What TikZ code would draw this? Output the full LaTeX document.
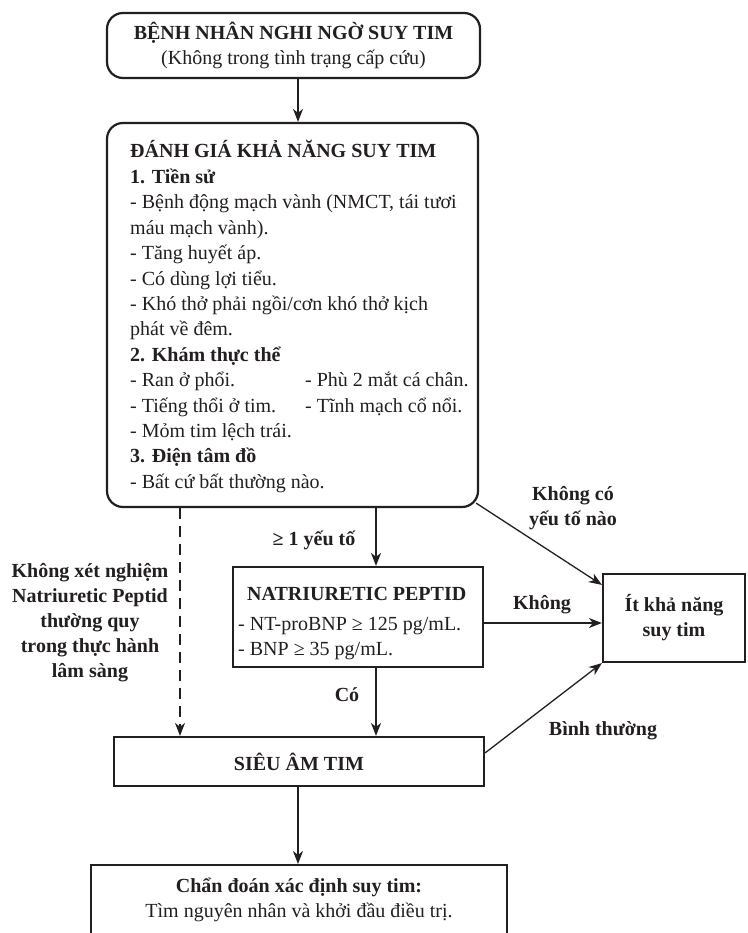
\documentclass[tikz,border=0pt]{standalone}
\usepackage{fontspec}
\setmainfont{Liberation Serif}
\usetikzlibrary{arrows.meta}
\definecolor{ink}{HTML}{231F20}
\begin{document}
\begin{tikzpicture}[x=1pt,y=-1pt,
  every node/.style={text=ink, font=\fontsize{20}{25}\selectfont},
  box/.style={draw=ink, line width=2.2pt, inner sep=0pt},
  rbox/.style={box, rounded corners=16pt},
  arr/.style={draw=ink, line width=1.3pt, -{Stealth[length=13pt,width=10pt,inset=4pt]}},
  lbl/.style={font=\fontsize{20}{25}\selectfont\bfseries, align=center},
  ln/.style={anchor=base west, inner sep=0pt}]
\clip (0,0) rectangle (747,933);
\fill[white] (0,0) rectangle (747,933);

% top box
\node[rbox, minimum width=373pt, minimum height=65pt, align=center] (start) at (293.5,45.5)
  {\textbf{BỆNH NHÂN NGHI NGỜ SUY TIM}\\(Không trong tình trạng cấp cứu)};

% assessment box
\node[rbox, minimum width=371pt, minimum height=384pt] (assess) at (292.5,315) {};
\node[ln] (t0) at (130,158) {\textbf{ĐÁNH GIÁ KHẢ NĂNG SUY TIM}};
\node[ln] (t1) at (130,183.4) {\textbf{1. Tiền sử}};
\node[ln] (t2) at (130,208.8) {- Bệnh động mạch vành (NMCT, tái tươi};
\node[ln] (t3) at (130,234.2) {máu mạch vành).};
\node[ln] (t4) at (130,259.6) {- Tăng huyết áp.};
\node[ln] (t5) at (130,285) {- Có dùng lợi tiểu.};
\node[ln] (t6) at (130,310.4) {- Khó thở phải ngồi/cơn khó thở kịch};
\node[ln] (t7) at (130,335.8) {phát về đêm.};
\node[ln] (t8) at (130,361.2) {\textbf{2. Khám thực thể}};
\node[ln] (t9) at (130,386.6) {- Ran ở phổi.};
\node[ln] (c9) at (305,386.6) {- Phù 2 mắt cá chân.};
\node[ln] (t10) at (130,412) {- Tiếng thổi ở tim.};
\node[ln] (c10) at (305,412) {- Tĩnh mạch cổ nổi.};
\node[ln] (t11) at (130,437.4) {- Mỏm tim lệch trái.};
\node[ln] (t12) at (130,462.8) {\textbf{3. Điện tâm đồ}};
\node[ln] (t13) at (130,488.2) {- Bất cứ bất thường nào.};

% natriuretic peptide box
\node[box, minimum width=250pt, minimum height=100pt] (np) at (358,617) {};
\node[ln] (n0) at (247,600) {\textbf{NATRIURETIC PEPTID}};
\node[ln] (n1) at (238,630) {- NT-proBNP ≥ 125 pg/mL.};
\node[ln] (n2) at (238,655) {- BNP ≥ 35 pg/mL.};

% unlikely HF box
\node[box, lbl, minimum width=142pt, minimum height=88pt] (few) at (674,618) {Ít khả năng\\suy tim};

% echo box
\node[box, lbl, minimum width=370pt, minimum height=49pt] (echo) at (299,761.5) {SIÊU ÂM TIM};

% diagnosis box
\node[box, minimum width=416pt, minimum height=100pt, anchor=north] (diag) at (299,864) {};
\node[anchor=base, inner sep=0pt] (d1) at (299,892) {\textbf{Chẩn đoán xác định suy tim:}};
\node[anchor=base, inner sep=0pt] (d2) at (299,917) {Tìm nguyên nhân và khởi đầu điều trị.};

% labels
\node[lbl] (l1) at (314,540) {≥ 1 yếu tố};
\node[lbl] (l2) at (573,508) {Không có\\yếu tố nào};
\node[lbl] (l3) at (542,605) {Không};
\node[lbl] (l4) at (90,623) {Không xét nghiệm\\Natriuretic Peptid\\thường quy\\trong thực hành\\lâm sàng};
\node[lbl] (l5) at (347,695) {Có};
\node[lbl] (l6) at (603,731) {Bình thường};

% helper coordinates
\coordinate (mx) at (298,0);
\coordinate (dx) at (180,0);
\coordinate (cx) at (376,0);
\coordinate (ky) at (0,623);

% connectors
\draw[arr] (start.south -| mx) -- (assess.north -| mx);
\draw[arr, dash pattern=on 11pt off 7pt] (assess.south -| dx) -- (echo.north -| dx);
\draw[arr] (assess.south -| cx) -- (np.north -| cx);
\draw[arr] (np.south -| cx) -- (echo.north -| cx);
\draw[arr] (np.east |- ky) -- (few.west |- ky);
\draw[arr] ([shift={(-3,-5)}]assess.south east) -- ([shift={(0,12)}]few.north west);
\draw[arr] ([shift={(0,17)}]echo.north east) -- (few.south west);
\draw[arr] (echo.south -| mx) -- (diag.north -| mx);
\end{tikzpicture}
\end{document}
